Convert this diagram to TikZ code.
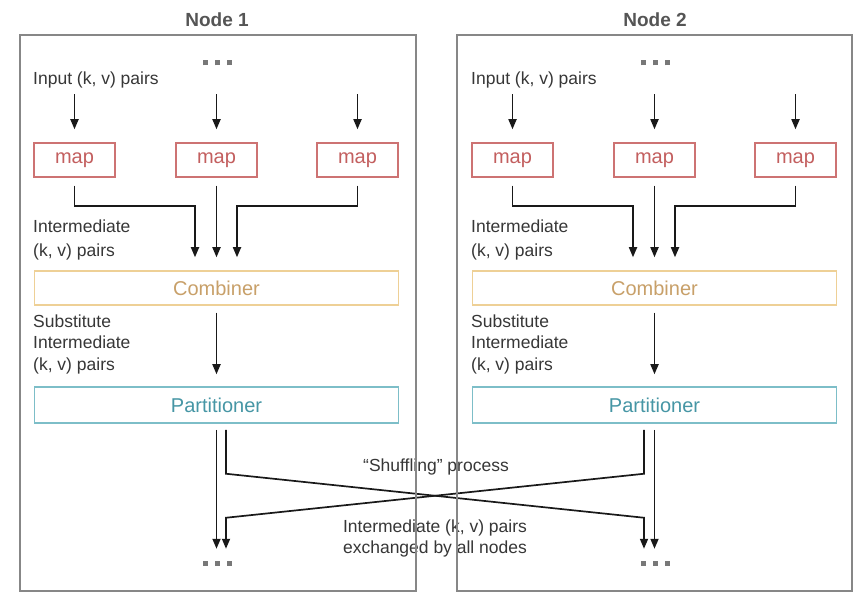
\documentclass[tikz,border=0pt]{standalone}
\usepackage{fontspec}
\setmainfont{Liberation Sans}
\usetikzlibrary{arrows.meta}
\definecolor{boxgray}{RGB}{135,135,135}
\definecolor{titlegray}{RGB}{85,85,85}
\definecolor{labeltext}{RGB}{55,55,55}
\definecolor{mapline}{RGB}{205,115,115}
\definecolor{maptext}{RGB}{195,95,95}
\definecolor{combline}{RGB}{238,208,150}
\definecolor{combtext}{RGB}{200,160,105}
\definecolor{partline}{RGB}{125,190,200}
\definecolor{parttext}{RGB}{70,150,165}
\definecolor{dotgray}{RGB}{120,120,120}
\newcommand\sqdots{\textcolor{dotgray}{\rule{5pt}{5pt}\hspace{7pt}\rule{5pt}{5pt}\hspace{7pt}\rule{5pt}{5pt}}}
\begin{document}
\begin{tikzpicture}[x=1pt,y=-1pt,
  container/.style={draw=boxgray, line width=2pt, minimum width=396pt, minimum height=556pt, inner sep=0pt},
  titlelbl/.style={font=\bfseries\fontsize{19}{23}\selectfont, text=titlegray},
  mapbox/.style={draw=mapline, line width=1.5pt, text=maptext, minimum width=81pt, minimum height=34pt, inner sep=0pt, font=\fontsize{20}{24}\selectfont},
  combbox/.style={draw=combline, line width=1.5pt, text=combtext, minimum width=364pt, minimum height=34pt, inner sep=0pt, font=\fontsize{20}{24}\selectfont},
  partbox/.style={draw=partline, line width=1.5pt, text=parttext, minimum width=364pt, minimum height=36pt, inner sep=0pt, font=\fontsize{20}{24}\selectfont},
  lbl/.style={font=\fontsize{17.5}{24}\selectfont, text=labeltext, inner sep=0pt, align=left, anchor=west},
  lblb/.style={font=\fontsize{17.5}{21.5}\selectfont, text=labeltext, inner sep=0pt, align=left, anchor=west},
  clbl/.style={font=\fontsize{17.5}{21}\selectfont, text=labeltext, inner sep=0pt, align=center},
  sqd/.style={inner sep=0pt},
  arr/.style={-{Triangle[length=10pt,width=8pt]}, line width=1.7pt, draw=black!90}
]
\useasboundingbox (0,0) rectangle (854,593);
\fill[white] (0,0) rectangle (854,593);

\foreach \i/\o in {1/0,2/438}{
  \node[lbl] (in\i) at (33+\o,80) {Input (k, v) pairs};
  \node[sqd] (td\i) at (217+\o,63) {\sqdots};
  \node[mapbox] (mA\i) at (74.5+\o,160) {map};
  \node[mapbox] (mB\i) at (216.5+\o,160) {map};
  \node[mapbox] (mC\i) at (357.5+\o,160) {map};
  \foreach \m in {A,B,C}
    \draw[arr] ([yshift=48pt]m\m\i.north) -- ([yshift=13pt]m\m\i.north);
  \node[combbox] (c\i) at (216.5+\o,288) {Combiner};
  \node[partbox] (p\i) at (216.5+\o,405) {Partitioner};
  \draw[arr] ([yshift=-8pt]mA\i.south) -- ++(0,20) -| ([xshift=-21.5pt,yshift=13pt]c\i.north);
  \draw[arr] ([yshift=-8pt]mB\i.south) -- ([yshift=13pt]c\i.north);
  \draw[arr] ([yshift=-8pt]mC\i.south) -- ++(0,20) -| ([xshift=20.5pt,yshift=13pt]c\i.north);
  \draw[arr] ([yshift=-7pt]c\i.south) -- ([yshift=12pt]p\i.north);
  \node[lbl] (im\i) at (33+\o,240) {Intermediate\\(k, v) pairs};
  \node[lblb] (sub\i) at (33+\o,344) {Substitute\\Intermediate\\(k, v) pairs};
  \node[sqd] (bd\i) at (217+\o,563) {\sqdots};
}

% shuffling
\draw[arr] ([yshift=-6pt]p1.south) -- ([yshift=-125pt]p1.south);
\draw[arr] ([yshift=-6pt]p2.south) -- ([yshift=-125pt]p2.south);
\draw[arr] ([xshift=9.5pt,yshift=-6pt]p1.south) -- ([xshift=9.5pt,yshift=-50pt]p1.south)
  -- ([xshift=-10.5pt,yshift=-94pt]p2.south) -- ([xshift=-10.5pt,yshift=-125pt]p2.south);
\draw[arr] ([xshift=-10.5pt,yshift=-6pt]p2.south) -- ([xshift=-10.5pt,yshift=-50pt]p2.south)
  -- ([xshift=9.5pt,yshift=-94pt]p1.south) -- ([xshift=9.5pt,yshift=-125pt]p1.south);

\node[clbl] (shuf) at (436,467) {“Shuffling” process};
\node[clbl] (exch) at (435,538) {Intermediate (k, v) pairs\\exchanged by all nodes};

% containers
\node[container] (n1) at (218,313) {};
\node[container, minimum width=395pt] (n2) at (654.5,313) {};
\node[titlelbl] (t1) at (217,20) {Node 1};
\node[titlelbl] (t2) at (655,20) {Node 2};
\end{tikzpicture}
\end{document}
